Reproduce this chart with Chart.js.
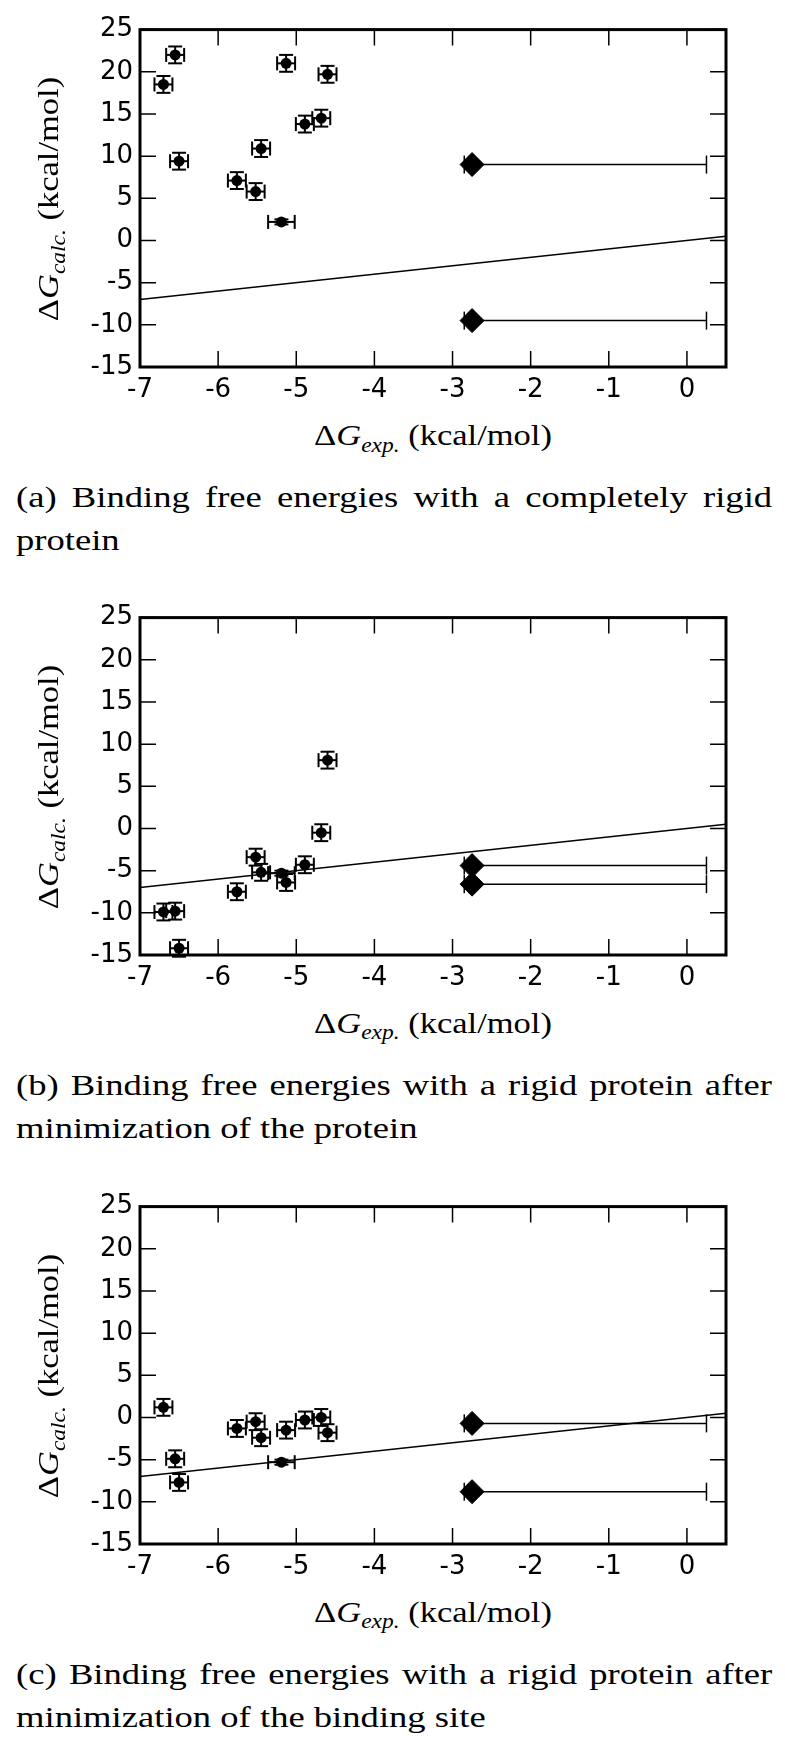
<!DOCTYPE html>
<html>
<head>
<meta charset="utf-8">
<script src="https://cdn.jsdelivr.net/npm/chart.js@4.4.1/dist/chart.umd.min.js"></script>
<style>
  html, body { margin: 0; padding: 0; background: #fff; }
  #page { position: relative; width: 785px; height: 1740px; overflow: hidden; }
  #page canvas { position: absolute; left: 0; }
  .cap {
    position: absolute; left: 16px;
    transform: scaleX(1.22); transform-origin: 0 0;
    font: 30px "Liberation Serif", serif; line-height: 43px; color: #000;
    white-space: nowrap;
  }
  .lab {
    position: absolute; width: 400px; height: 30px; line-height: 30px;
    text-align: center; white-space: nowrap;
    font: 30px "Liberation Serif", serif; color: #000;
  }
  .xlab { transform: scaleX(1.15); }
  .ylab { transform: rotate(-90deg) scaleX(1.15); }
  .sub { font-size: 0.68em; font-style: italic; position: relative; top: 0.32em; }
</style>
</head>
<body>
<div id="page"></div>
<script>
// experimental binding free energies (x) with their errors
const expX = [-6.7, -6.55, -6.5, -5.76, -5.52, -5.45, -5.19, -5.13, -4.89, -4.68, -4.6];
const expErr = [0.115, 0.115, 0.115, 0.115, 0.115, 0.115, 0.17, 0.115, 0.115, 0.115, 0.115];
const calcErr = [1.0, 1.0, 1.0, 1.0, 1.0, 1.0, 0.3, 1.0, 1.0, 1.0, 1.0];

// calculated values, one list per panel
const rigidCalc = [18.5, 22.0, 9.4, 7.1, 5.8, 10.9, 2.2, 21.0, 13.8, 14.5, 19.7];
const minProteinCalc = [-9.9, -9.8, -14.2, -7.5, -3.4, -5.2, -5.3, -6.4, -4.3, -0.5, 8.1];
const minSiteCalc = [1.2, -4.9, -7.7, -1.3, -0.5, -2.4, -5.3, -1.5, -0.3, 0.0, -1.8];

// weak binders, only a bound on the experimental value
const boundX = [-2.75, -2.75];
const boundErrLow = [0.1, 0.1];
const boundErrHigh = [3.0, 3.0];
const rigidBound = [9.0, -9.5];
const minProteinBound = [-4.4, -6.6];
const minSiteBound = [-0.7, -8.8];

const diagonal = [-7, 0.5];
const xTicks = [-7, -6, -5, -4, -3, -2, -1, 0];
const yTicks = [-15, -10, -5, 0, 5, 10, 15, 20, 25];

const captions = [
  ["(a) Binding free energies with a completely rigid", "protein"],
  ["(b) Binding free energies with a rigid protein after", "minimization of the protein"],
  ["(c) Binding free energies with a rigid protein after", "minimization of the binding site"],
];

const page = document.getElementById("page");
const plotTops = [27, 614.5, 1203.5];
const plotH = 340;
const padTop = 20;
const capScale = 1.22;
const capWidth = 756;

function addText(cls, html, left, top) {
  const div = document.createElement("div");
  div.className = cls;
  div.innerHTML = html;
  div.style.left = left + "px";
  div.style.top = top + "px";
  page.appendChild(div);
  return div;
}

function addCaption(lines, top) {
  const cap = document.createElement("div");
  cap.className = "cap";
  cap.style.top = top + "px";
  const first = document.createElement("div");
  const span = document.createElement("span");
  span.textContent = lines[0];
  first.appendChild(span);
  const second = document.createElement("div");
  second.textContent = lines[1];
  cap.appendChild(first);
  cap.appendChild(second);
  page.appendChild(cap);
  // stretch the first line to the full width, like a justified paragraph
  const gaps = lines[0].split(" ").length - 1;
  const extra = (capWidth / capScale - span.offsetWidth) / gaps;
  first.style.wordSpacing = extra + "px";
}

function makePanel(idx, calcY, boundY) {
  const top = plotTops[idx];
  const canvas = document.createElement("canvas");
  canvas.width = 785;
  canvas.height = padTop + plotH + 50;
  canvas.style.top = (top - padTop) + "px";
  page.appendChild(canvas);

  const errorBars = {
    id: "errorBars",
    beforeDatasetsDraw(chart) {
      const { ctx, scales: { x, y } } = chart;
      let cap = 7;
      ctx.save();
      ctx.strokeStyle = "#000";
      ctx.lineWidth = 2;
      const seg = (x0, y0, x1, y1) => {
        ctx.beginPath();
        ctx.moveTo(x0, y0);
        ctx.lineTo(x1, y1);
        ctx.stroke();
      };
      const hBar = (xv, lo, hi, yv) => {
        const py = y.getPixelForValue(yv);
        const a = x.getPixelForValue(xv - lo);
        const b = x.getPixelForValue(xv + hi);
        seg(a, py, b, py);
        seg(a, py - cap, a, py + cap);
        seg(b, py - cap, b, py + cap);
      };
      const vBar = (xv, yv, err) => {
        const px = x.getPixelForValue(xv);
        const a = y.getPixelForValue(yv - err);
        const b = y.getPixelForValue(yv + err);
        seg(px, a, px, b);
        seg(px - cap, a, px + cap, a);
        seg(px - cap, b, px + cap, b);
      };
      expX.forEach((xv, i) => {
        hBar(xv, expErr[i], expErr[i], calcY[i]);
        vBar(xv, calcY[i], calcErr[i]);
      });
      cap = 9;
      ctx.lineWidth = 1.5;
      boundX.forEach((xv, i) => hBar(xv, boundErrLow[i], boundErrHigh[i], boundY[i]));
      ctx.restore();
    },
  };

  const frame = {
    id: "frame",
    afterDraw(chart) {
      const { ctx, chartArea: ca, scales: { x, y } } = chart;
      const len = 16;
      ctx.save();
      ctx.strokeStyle = "#000";
      ctx.lineWidth = 1.5;
      ctx.beginPath();
      xTicks.forEach((v) => {
        const px = x.getPixelForValue(v);
        ctx.moveTo(px, ca.bottom); ctx.lineTo(px, ca.bottom - len);
        ctx.moveTo(px, ca.top); ctx.lineTo(px, ca.top + len);
      });
      yTicks.forEach((v) => {
        const py = y.getPixelForValue(v);
        ctx.moveTo(ca.left, py); ctx.lineTo(ca.left + len, py);
        ctx.moveTo(ca.right, py); ctx.lineTo(ca.right - len, py);
      });
      ctx.stroke();
      ctx.lineWidth = 3;
      ctx.strokeRect(ca.left, ca.top, ca.right - ca.left, ca.bottom - ca.top);
      ctx.restore();
    },
  };

  const tickFont = { family: "DejaVu Sans", size: 26 };

  new Chart(canvas, {
    type: "scatter",
    data: {
      datasets: [
        {
          data: expX.map((v, i) => ({ x: v, y: calcY[i] })),
          pointStyle: "circle",
          pointRadius: 5.5,
          backgroundColor: "#000",
          borderColor: "#000",
          borderWidth: 0,
        },
        {
          data: boundX.map((v, i) => ({ x: v, y: boundY[i] })),
          pointStyle: "rectRot",
          pointRadius: 12,
          backgroundColor: "#000",
          borderColor: "#000",
          borderWidth: 1,
        },
        {
          data: diagonal.map((v) => ({ x: v, y: v })),
          showLine: true,
          pointRadius: 0,
          borderColor: "#000",
          borderWidth: 1.7,
        },
      ],
    },
    options: {
      responsive: false,
      animation: false,
      devicePixelRatio: 1,
      layout: { padding: { top: padTop, right: 59, left: 0, bottom: 0 } },
      plugins: { legend: { display: false }, tooltip: { enabled: false } },
      scales: {
        x: {
          type: "linear",
          min: -7,
          max: 0.5,
          afterBuildTicks: (s) => { s.ticks = xTicks.map((v) => ({ value: v })); },
          afterFit: (s) => { s.height = 50; },
          ticks: { font: tickFont, color: "#000", padding: 8, maxRotation: 0 },
          grid: { display: false, drawTicks: false },
          border: { display: false },
        },
        y: {
          type: "linear",
          min: -15,
          max: 25,
          afterBuildTicks: (s) => { s.ticks = yTicks.map((v) => ({ value: v })); },
          afterFit: (s) => { s.width = 140; },
          ticks: { font: tickFont, color: "#000", padding: 7 },
          grid: { display: false, drawTicks: false },
          border: { display: false },
        },
      },
    },
    plugins: [errorBars, frame],
  });

  const delta = "\u0394";
  addText("lab xlab", delta + "<i>G</i><span class=\"sub\">exp.</span> (kcal/mol)", 433 - 200, top + plotH + 51);
  addText("lab ylab", delta + "<i>G</i><span class=\"sub\">calc.</span> (kcal/mol)", 46 - 200, top + 172 - 15);
  addCaption(captions[idx], top + 480 - 31.6);
}

makePanel(0, rigidCalc, rigidBound);
makePanel(1, minProteinCalc, minProteinBound);
makePanel(2, minSiteCalc, minSiteBound);
</script>
</body>
</html>
